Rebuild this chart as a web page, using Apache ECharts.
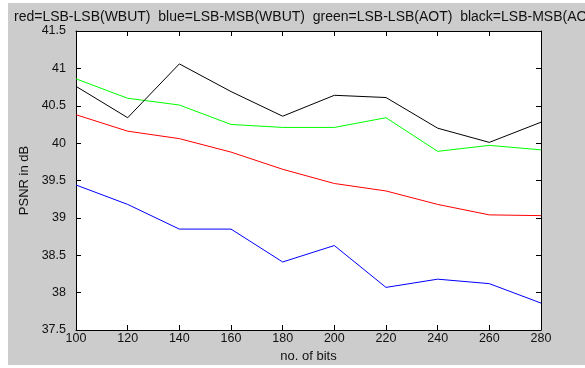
<!DOCTYPE html>
<html>
<head>
<meta charset="utf-8">
<script src="https://cdn.jsdelivr.net/npm/echarts@6/dist/echarts.min.js"></script>
<style>
html,body{margin:0;padding:0;background:#fff;}
#c{width:585px;height:368px;}
</style>
</head>
<body>
<div id="c"></div>
<script>
const bits = [100, 120, 140, 160, 180, 200, 220, 240, 260, 280];
const redLSBLSB_WBUT = [40.38, 40.16, 40.06, 39.88, 39.65, 39.46, 39.36, 39.18, 39.04, 39.03];
const blueLSBMSB_WBUT = [39.44, 39.18, 38.85, 38.85, 38.41, 38.63, 38.07, 38.18, 38.12, 37.86];
const greenLSBLSB_AOT = [40.86, 40.60, 40.51, 40.25, 40.21, 40.21, 40.34, 39.89, 39.97, 39.91];
const blackLSBMSB_AOT = [40.76, 40.34, 41.06, 40.69, 40.36, 40.64, 40.61, 40.20, 40.01, 40.28];
const titleText = 'red=LSB-LSB(WBUT)  blue=LSB-MSB(WBUT)  green=LSB-LSB(AOT)  black=LSB-MSB(AOT)';

const chart = echarts.init(document.getElementById('c'), null, {renderer: 'canvas'});
const font = 'Liberation Sans, Arial, sans-serif';
function mk(name, vals, color) {
  return {
    name: name, type: 'line', data: bits.map((b, i) => [b, vals[i]]),
    showSymbol: false, symbol: 'none', lineStyle: {color: color, width: 1}, itemStyle: {color: color},
    animation: false, z: 3
  };
}
const tickStyle = {show: true, inside: true, length: 5, lineStyle: {color: '#000', width: 1}};
chart.setOption({
  animation: false,
  backgroundColor: '#ffffff',
  graphic: [
    {type: 'rect', shape: {x: 8, y: 3, width: 577, height: 362}, style: {fill: '#cccccc'}, z: -10, silent: true},
    {type: 'text', x: 14, y: 10, style: {text: titleText, font: '14px ' + font, fill: '#111'}, z: 10}
  ],
  grid: {left: 76, right: 44, top: 31, bottom: 31, show: true, backgroundColor: '#ffffff', borderWidth: 0},
  xAxis: [
    {type: 'value', min: 100, max: 280, interval: 20, position: 'bottom',
     axisLine: {show: true, onZero: false, lineStyle: {color: '#000', width: 1}},
     axisTick: tickStyle, splitLine: {show: false},
     axisLabel: {color: '#111', fontSize: 12.5, fontFamily: font, margin: 2},
     name: 'no. of bits', nameLocation: 'middle', nameGap: 20,
     nameTextStyle: {color: '#111', fontSize: 13, fontFamily: font}},
    {type: 'value', min: 100, max: 280, interval: 20, position: 'top',
     axisLine: {show: true, onZero: false, lineStyle: {color: '#000', width: 1}},
     axisTick: tickStyle, splitLine: {show: false}, axisLabel: {show: false}}
  ],
  yAxis: [
    {type: 'value', min: 37.5, max: 41.5, interval: 0.5, position: 'left',
     axisLine: {show: true, onZero: false, lineStyle: {color: '#000', width: 1}},
     axisTick: tickStyle, splitLine: {show: false},
     axisLabel: {color: '#111', fontSize: 12.5, fontFamily: font, margin: 10},
     name: 'PSNR in dB', nameLocation: 'middle', nameGap: 43,
     nameTextStyle: {color: '#111', fontSize: 13, fontFamily: font}},
    {type: 'value', min: 37.5, max: 41.5, interval: 0.5, position: 'right',
     axisLine: {show: true, onZero: false, lineStyle: {color: '#000', width: 1}},
     axisTick: tickStyle, splitLine: {show: false}, axisLabel: {show: false}}
  ],
  series: [
    mk('red', redLSBLSB_WBUT, '#ff0000'),
    mk('blue', blueLSBMSB_WBUT, '#0000ff'),
    mk('green', greenLSBLSB_AOT, '#00ff00'),
    mk('black', blackLSBMSB_AOT, '#000000')
  ]
});
</script>
</body>
</html>
